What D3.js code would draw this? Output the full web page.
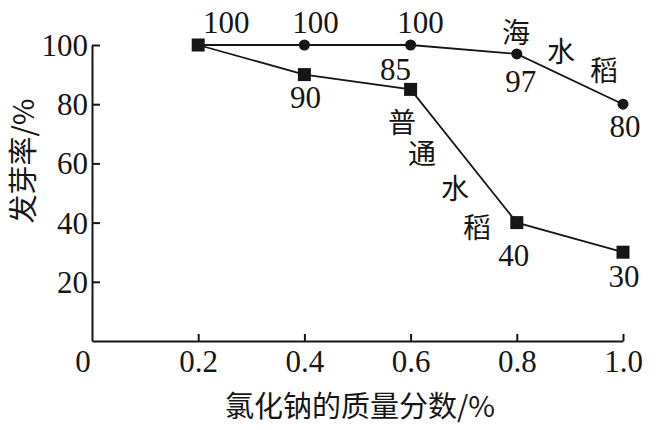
<!DOCTYPE html>
<html>
<head>
<meta charset="utf-8">
<script src="https://cdn.jsdelivr.net/npm/d3@7"></script>
<style>
  html, body { margin: 0; padding: 0; background: #fff; }
  svg text { fill: #161616; }
</style>
</head>
<body>
<svg id="chart" width="661" height="430"></svg>
<script>
// NaCl mass fraction (%)
var concentrations = [0.2, 0.4, 0.6, 0.8, 1.0];
var xTicks = [0.2, 0.4, 0.6, 0.8, 1.0];
var yTicks = [20, 40, 60, 80, 100];

// germination rate (%)
var seaRice = [100, 100, 100, 97, 80];
var commonRice = [100, 90, 85, 40, 30];

// where each value label sits relative to its point (dx, baseline dy)
var seaLabelPos = [null, [11, -12], [10, -12], [4, 38], [2, 33]];
var commonLabelPos = [[28, -12], [1, 33], [-15, -9], [-3, 43], [1, 35]];

var serif = "'Liberation Serif', 'DejaVu Serif', 'Times New Roman', serif";
var cjk = "'Noto Sans CJK SC', sans-serif";
var ink = "#161616";

var svg = d3.select("#chart");

var x = d3.scaleLinear().domain([0, 1]).range([92, 623]);
var y = d3.scaleLinear().domain([0, 100]).range([341, 45]);

///////////////////////////////////////////////////////////////////////////////
// axes

var xAxis = svg.append("g")
  .attr("transform", "translate(0," + y(0) + ")")
  .call(d3.axisBottom(x).tickValues(xTicks).tickSizeInner(-7).tickSizeOuter(0)
        .tickFormat(d3.format(".1f")));

var yAxis = svg.append("g")
  .attr("transform", "translate(" + x(0) + ",0)")
  .call(d3.axisLeft(y).tickValues(yTicks).tickSizeInner(-8).tickSizeOuter(0)
        .tickFormat(d3.format("d")));

[xAxis, yAxis].forEach(function (g) {
  g.attr("font-family", null).attr("font-size", null);
  g.select(".domain").attr("stroke", ink).attr("stroke-width", 2);
  g.selectAll(".tick line").attr("stroke", ink).attr("stroke-width", 2);
  g.selectAll(".tick text").attr("fill", ink)
    .style("font-family", serif).style("font-size", "31px");
});

xAxis.selectAll(".tick text").attr("dy", null).attr("y", 31);
yAxis.selectAll(".tick text").attr("x", -4).attr("dy", "0.34em");

// origin label sits to the lower left of the corner
svg.append("text")
  .attr("x", x(0) - 9).attr("y", y(0) + 31)
  .attr("text-anchor", "middle")
  .style("font-family", serif)
  .style("font-size", "31px")
  .text("0");

// axis titles
svg.append("text")
  .attr("x", 360).attr("y", 417)
  .attr("text-anchor", "middle")
  .style("font-family", cjk)
  .style("font-size", "29px")
  .text("氯化钠的质量分数/%");

svg.append("text")
  .attr("transform", "translate(34,161) rotate(-90)")
  .attr("text-anchor", "middle")
  .style("font-family", cjk)
  .style("font-size", "29px")
  .text("发芽率/%");

///////////////////////////////////////////////////////////////////////////////
// lines

var line = d3.line()
  .x(function (d, i) { return x(concentrations[i]); })
  .y(function (d) { return y(d); });

svg.append("path").datum(seaRice)
  .attr("d", line).attr("fill", "none")
  .attr("stroke", ink).attr("stroke-width", 1.8);

svg.append("path").datum(commonRice)
  .attr("d", line).attr("fill", "none")
  .attr("stroke", ink).attr("stroke-width", 1.8);

svg.selectAll("circle.sea")
  .data(seaRice.slice(1))
  .enter().append("circle")
  .attr("class", "sea")
  .attr("cx", function (d, i) { return x(concentrations[i + 1]); })
  .attr("cy", function (d) { return y(d); })
  .attr("r", 5.5)
  .attr("fill", ink);

var sq = 13;
svg.selectAll("rect.common")
  .data(commonRice)
  .enter().append("rect")
  .attr("class", "common")
  .attr("x", function (d, i) { return x(concentrations[i]) - sq / 2; })
  .attr("y", function (d) { return y(d) - sq / 2; })
  .attr("width", sq).attr("height", sq)
  .attr("fill", ink);

///////////////////////////////////////////////////////////////////////////////
// value labels

var addLabels = function (values, pos) {
  values.forEach(function (v, i) {
    if (!pos[i]) return;
    svg.append("text")
      .attr("x", x(concentrations[i]) + pos[i][0])
      .attr("y", y(v) + pos[i][1])
      .attr("text-anchor", "middle")
      .style("font-family", serif)
      .style("font-size", "31px")
      .text(v);
  });
};
addLabels(seaRice, seaLabelPos);
addLabels(commonRice, commonLabelPos);

// series names written along the lines, one character at a time
var seaName = [["海", 516, 43], ["水", 561, 62], ["稻", 604, 81]];
var commonName = [["普", 402, 133], ["通", 422, 164], ["水", 455, 199], ["稻", 477, 238]];

seaName.concat(commonName).forEach(function (c) {
  svg.append("text")
    .attr("x", c[1]).attr("y", c[2])
    .attr("text-anchor", "middle")
    .style("font-family", cjk)
    .style("font-size", "28px")
    .text(c[0]);
});
</script>
</body>
</html>
